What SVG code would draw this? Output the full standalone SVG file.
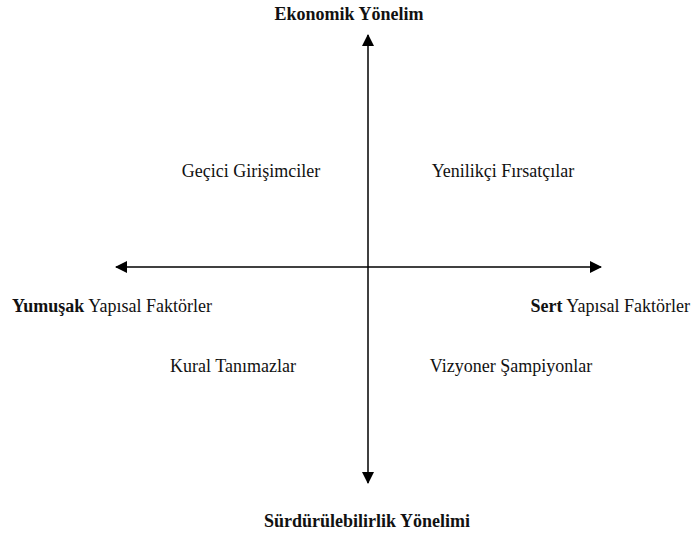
<svg xmlns="http://www.w3.org/2000/svg" width="694" height="539" viewBox="0 0 694 539" font-family="'Liberation Serif','Times New Roman',serif">
<style>
text{font-family:'Liberation Serif','Times New Roman',serif;font-size:18px;fill:#111;}
.b{font-weight:bold;}
.ax{stroke:#000;stroke-width:1.5;fill:none;}
</style>
<defs>
<marker id="ah" viewBox="0 0 12 12" refX="11" refY="6" markerWidth="12" markerHeight="12" markerUnits="userSpaceOnUse" orient="auto">
<path d="M0,0 L12,6 L0,12 Z" fill="#000"/>
</marker>
</defs>
<rect width="694" height="539" fill="#fff"/>
<g id="connectors">
<line class="ax" x1="368" y1="267" x2="368" y2="35" marker-end="url(#ah)"/>
<line class="ax" x1="368" y1="267" x2="368" y2="483" marker-end="url(#ah)"/>
<line class="ax" x1="368" y1="267" x2="116" y2="267" marker-end="url(#ah)"/>
<line class="ax" x1="368" y1="267" x2="601" y2="267" marker-end="url(#ah)"/>
</g>
<g id="top"><text class="b" x="349" y="20" text-anchor="middle">Ekonomik Yönelim</text></g>
<g id="bottom"><text class="b" x="367" y="527" text-anchor="middle">Sürdürülebilirlik Yönelimi</text></g>
<g id="left"><text x="12" y="312"><tspan class="b">Yumuşak</tspan> Yapısal Faktörler</text></g>
<g id="right"><text x="690" y="312" text-anchor="end"><tspan class="b">Sert</tspan> Yapısal Faktörler</text></g>
<g id="q1"><text x="251" y="177" text-anchor="middle">Geçici Girişimciler</text></g>
<g id="q2"><text x="503" y="177" text-anchor="middle">Yenilikçi Fırsatçılar</text></g>
<g id="q3"><text x="233" y="372" text-anchor="middle">Kural Tanımazlar</text></g>
<g id="q4"><text x="511" y="372" text-anchor="middle">Vizyoner Şampiyonlar</text></g>
</svg>
